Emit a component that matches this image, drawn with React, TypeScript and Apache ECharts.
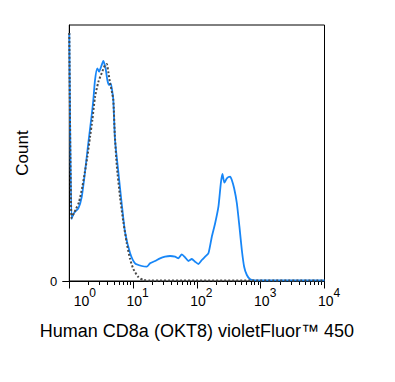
import React, { useEffect, useRef } from "react";
import * as echarts from "echarts";

// Fluorescence intensity (x) and count (y)
const stainedX = [1.0, 1.083, 1.143, 1.228, 1.384, 1.565, 1.763, 1.986, 2.245, 2.38, 2.53, 2.749, 2.923, 3.142, 3.415, 3.697, 3.947, 4.197, 4.459, 4.727, 4.898, 5.209, 5.871, 6.637, 7.477, 8.958, 10.73, 13.67, 16.37, 18.44, 22.08, 26.47, 31.7, 38.0, 45.5, 51.3, 57.9, 65.3, 73.6, 83.2, 93.7, 105.6, 119.4, 134.5, 151.5, 171.3, 193.1, 217.5, 237.1, 251.2, 270, 294.3, 331.7, 352.5, 383.3, 422.4, 464.3, 506, 550, 606.5, 683.6, 818, 10000];
const stainedCount = [248, 62, 66, 69.3, 72.5, 84, 109, 138, 166, 181, 201, 212.7, 209.3, 214, 220, 213, 201, 196, 197.7, 189, 181, 141, 109, 77, 49, 28, 17.7, 15, 14.3, 17.7, 20, 22.7, 24.3, 25, 24.3, 22.7, 26.7, 23.7, 20, 22, 19.3, 17, 21, 24.3, 27.7, 44.3, 57.7, 74.3, 97.7, 107, 98.3, 102.7, 104.3, 101, 92.7, 78, 54.3, 31, 14.3, 6, 1.7, 0.7, 0.7];

const controlX = [1.0, 1.083, 1.185, 1.274, 1.42, 1.599, 1.745, 1.915, 2.113, 2.296, 2.53, 2.851, 3.223, 3.631, 3.861, 4.09, 4.348, 4.624, 4.898, 5.172, 5.54, 6.24, 7.03, 7.947, 8.958, 10.09, 12.09, 14.48, 18.44, 10000];
const controlCount = [248, 63, 68, 72, 79, 94, 108, 124, 144, 161, 184, 199, 208, 216, 217, 209, 198, 190, 181, 146, 116, 84, 59, 38, 22, 12, 4, 1, 0.5, 0.5];

const majorTicks = [1, 10, 100, 1000, 10000];
const minorDecades = [1, 10, 100, 1000];
const minorMultipliers = [2, 3, 4, 5, 6, 7, 8, 9];
const yTicks = [0];

const xTitle = "Human CD8a (OKT8) violetFluor™ 450";
const yTitle = "Count";

export default function App() {
  const ref = useRef<HTMLDivElement>(null);
  useEffect(() => {
    if (!ref.current) return;
    const chart = echarts.init(ref.current, null, { renderer: "svg" });
    const minorTicks: number[] = [];
    minorDecades.forEach((d) => minorMultipliers.forEach((m) => minorTicks.push(d * m)));
    const font = "Liberation Sans, Arial, sans-serif";
    chart.setOption({
      animation: false,
      grid: {
        left: 69.3,
        right: 70.5,
        top: 25,
        bottom: 101,
        show: true,
        borderColor: "#000",
        borderWidth: 1,
      },
      xAxis: [
        {
          type: "log",
          logBase: 10,
          min: 1,
          max: 10000,
          position: "bottom",
          name: xTitle,
          nameLocation: "middle",
          nameGap: 41,
          nameTextStyle: { fontFamily: font, fontSize: 18, color: "#000" },
          axisLine: { show: true, lineStyle: { color: "#000", width: 1 } },
          axisTick: { show: true, length: 7.5, customValues: majorTicks, lineStyle: { color: "#000" } },
          splitLine: { show: false },
          minorTick: { show: false },
          axisLabel: {
            customValues: majorTicks,
            margin: 6,
            formatter: (v: number) => {
              const e = Math.round(Math.log10(v));
              return e === 0 ? `{b0|10}{s|${e}}` : `{b|10}{s|${e}}`;
            },
            rich: {
              b: { fontFamily: font, fontSize: 14, color: "#000", padding: [7, 0, 0, 9], verticalAlign: "bottom" },
              b0: { fontFamily: font, fontSize: 14, color: "#000", padding: [7, 0, 0, 31], verticalAlign: "bottom" },
              s: { fontFamily: font, fontSize: 12, color: "#000", verticalAlign: "top" },
            },
          },
        },
        {
          type: "log",
          logBase: 10,
          min: 1,
          max: 10000,
          position: "bottom",
          axisLine: { show: false },
          axisTick: { show: true, length: 4, customValues: minorTicks, lineStyle: { color: "#000" } },
          axisLabel: { show: false },
          splitLine: { show: false },
        },
      ],
      yAxis: {
        type: "value",
        min: 0,
        max: 256,
        name: yTitle,
        nameLocation: "middle",
        nameGap: 38,
        nameRotate: 90,
        nameTextStyle: { fontFamily: font, fontSize: 17, color: "#000" },
        axisLine: { show: true, lineStyle: { color: "#000", width: 1 } },
        axisTick: { show: true, length: 7, customValues: yTicks, lineStyle: { color: "#000" } },
        axisLabel: {
          customValues: yTicks,
          fontFamily: font,
          fontSize: 13,
          color: "#000",
          margin: 12,
          padding: [0, 0, 9, 0],
        },
        splitLine: { show: false },
      },
      series: [
        {
          type: "line",
          xAxisIndex: 0,
          data: stainedX.map((x, i) => [x, stainedCount[i]]),
          showSymbol: false,
          smooth: 0.2,
          lineStyle: { color: "#1786f7", width: 1.8 },
          z: 2,
        },
        {
          type: "line",
          xAxisIndex: 0,
          data: controlX.map((x, i) => [x, controlCount[i]]),
          showSymbol: false,
          smooth: 0.2,
          lineStyle: { color: "#4a4a4a", width: 2, type: [2, 2] },
          z: 3,
        },
      ],
    });
    return () => chart.dispose();
  }, []);
  return <div ref={ref} style={{ width: 395, height: 382, position: "absolute", left: 0, top: 0 }} />;
}
